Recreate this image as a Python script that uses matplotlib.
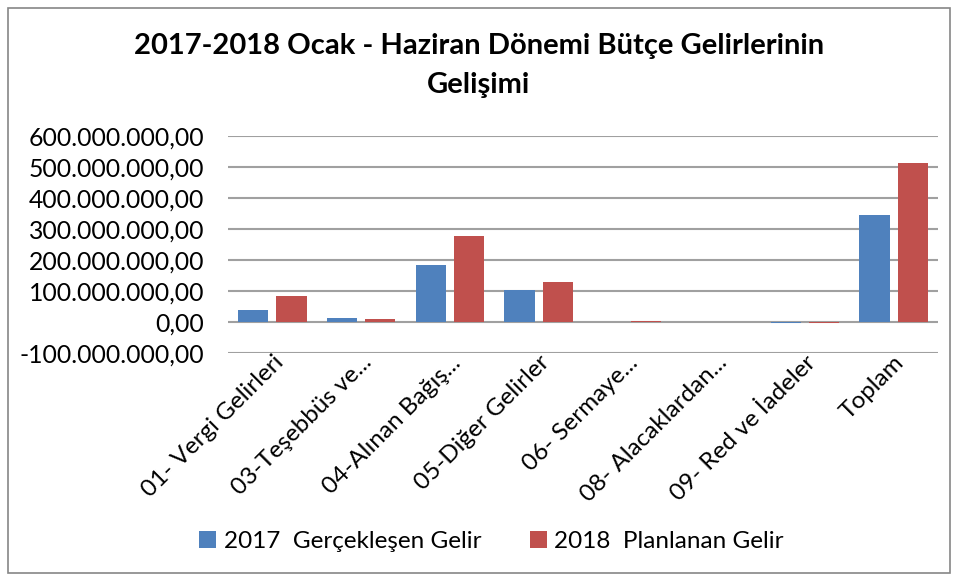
import matplotlib.pyplot as plt
import matplotlib.patches as patches
from matplotlib.ticker import FuncFormatter
import numpy as np

# Bütçe gelirleri (TL)
kategoriler = ["01- Vergi Gelirleri", "03-Teşebbüs ve...", "04-Alınan Bağış...",
               "05-Diğer Gelirler", "06- Sermaye...", "08- Alacaklardan...",
               "09- Red ve İadeler", "Toplam"]
gelir_2017 = [38e6, 13e6, 184e6, 105e6, 0.3e6, 0.2e6, -1e6, 345e6]
gelir_2018 = [83e6, 11e6, 277e6, 131e6, 3e6, 0.2e6, -1e6, 513e6]
seri_adlari = ["2017  Gerçekleşen Gelir", "2018  Planlanan Gelir"]

plt.rcParams['font.family'] = ['Lato', 'DejaVu Sans']

fig = plt.figure(figsize=(9.58, 5.81), dpi=100)
ax = fig.add_axes([0.238, 0.392, 0.741, 0.374])

x = np.arange(len(kategoriler))
w = 0.34
ax.bar(x - 0.215, gelir_2017, w, color='#4F81BD', label=seri_adlari[0], zorder=3)
ax.bar(x + 0.215, gelir_2018, w, color='#C0504D', label=seri_adlari[1], zorder=3)

ax.set_xlim(-0.5, len(kategoriler) - 0.5)
ax.set_ylim(-100e6, 600e6)
ax.set_yticks(np.arange(-100e6, 600e6 + 1, 100e6))

def tr_format(v, pos):
    s = f"{abs(v):,.2f}".replace(",", "X").replace(".", ",").replace("X", ".")
    return ("-" if v < 0 else "") + s

ax.yaxis.set_major_formatter(FuncFormatter(tr_format))
ax.grid(axis='y', color='#A0A0A0', linewidth=1.5, zorder=0)
for s in ax.spines.values():
    s.set_visible(False)
ax.tick_params(axis='both', length=0, labelsize=17.8)
ax.tick_params(axis='y', pad=17)
ax.tick_params(axis='x', pad=-1)
ax.set_xticks(x)
ax.set_xticklabels(kategoriler, rotation=45, ha='right', rotation_mode='anchor', fontsize=17.5)

fig.text(0.50, 0.887, "2017-2018 Ocak - Haziran Dönemi Bütçe Gelirlerinin\nGelişimi",
         ha='center', va='center', fontsize=21, fontweight='bold', linespacing=1.6)

fig.legend(loc='center', bbox_to_anchor=(0.513, 0.068), ncol=2, frameon=False,
           fontsize=17.5, handlelength=0.7, handleheight=0.7, handletextpad=0.3,
           columnspacing=2.0)

# dış çerçeve
fig.patches.append(patches.Rectangle((0.008, 0.013), 0.984, 0.974, transform=fig.transFigure,
                                     fill=False, edgecolor='#868686', linewidth=1.2))

fig.savefig("out.png", dpi=100)
